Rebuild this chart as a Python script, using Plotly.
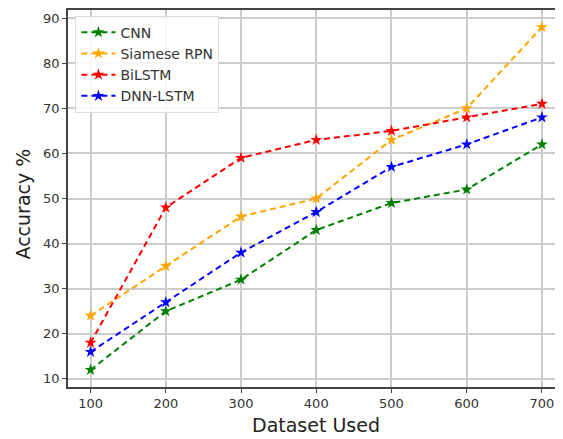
import plotly.graph_objects as go

dataset_sizes = [100, 200, 300, 400, 500, 600, 700]
cnn = [12, 25, 32, 43, 49, 52, 62]
siamese_rpn = [24, 35, 46, 50, 63, 70, 88]
bilstm = [18, 48, 59, 63, 65, 68, 71]
dnn_lstm = [16, 27, 38, 47, 57, 62, 68]

series = [
    ("CNN", cnn, "green"),
    ("Siamese RPN", siamese_rpn, "orange"),
    ("BiLSTM", bilstm, "red"),
    ("DNN-LSTM", dnn_lstm, "blue"),
]

fig = go.Figure()
for name, vals, color in series:
    fig.add_trace(go.Scatter(
        x=dataset_sizes, y=vals, name=name, mode="lines+markers",
        line=dict(color=color, width=2, dash="6px,4px"),
        marker=dict(symbol="star", size=9, color=color),
    ))

# page body has an 8px margin, so the figure is sized to fit the rest of the window
fig.update_layout(
    width=555, height=431,
    margin=dict(l=60, r=0, t=2, b=52, autoexpand=False),
    paper_bgcolor="white", plot_bgcolor="white",
    font=dict(family="DejaVu Sans", color="#333333"),
    showlegend=True,
    legend=dict(
        x=0.015, y=0.985, xanchor="left", yanchor="top",
        bgcolor="rgba(255,255,255,0.85)", bordercolor="#dddddd", borderwidth=1,
        font=dict(size=14, color="#333333"),
        itemwidth=34, tracegroupgap=0,
    ),
    xaxis=dict(
        range=[70, 728], automargin=False,
        tickvals=dataset_sizes,
        ticktext=[str(v) for v in dataset_sizes],
        ticklabeloverflow="allow",
        showgrid=True, gridcolor="#cccccc", gridwidth=1.5,
        showline=True, linecolor="#444444", linewidth=1.5, mirror=True,
        ticks="outside", ticklen=4, tickcolor="#444444",
        tickfont=dict(size=13, color="#333333"),
        zeroline=False,
    ),
    yaxis=dict(
        range=[8.2, 91.8], automargin=False,
        tickvals=[10, 20, 30, 40, 50, 60, 70, 80, 90],
        showgrid=True, gridcolor="#cccccc", gridwidth=1.5,
        showline=True, linecolor="#444444", linewidth=1.5,
        ticks="outside", ticklen=4, tickcolor="#444444",
        tickfont=dict(size=13, color="#333333"),
        zeroline=False,
    ),
    annotations=[
        dict(text="Dataset Used", xref="paper", yref="paper", x=0.5, y=0,
             xanchor="center", yanchor="middle", yshift=-38, showarrow=False,
             font=dict(size=19, color="#222222")),
        dict(text="Accuracy %", xref="paper", yref="paper", x=0, y=0.5,
             xanchor="center", yanchor="middle", xshift=-46, yshift=-6,
             textangle=-90, showarrow=False,
             font=dict(size=19, color="#222222")),
    ],
)

fig.write_html("out.html")
